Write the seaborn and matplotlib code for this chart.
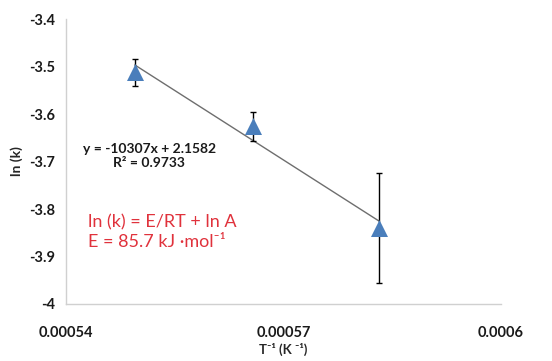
import numpy as np
import pandas as pd
import matplotlib
matplotlib.use("Agg")
import matplotlib.pyplot as plt
import seaborn as sns

# data
inv_T = [0.0005495, 0.0005658, 0.0005832]
ln_k = [-3.512, -3.626, -3.840]
err = [0.028, 0.030, 0.116]

# trendline equation as printed on the chart
slope = -10307
intercept = 2.1582
r2 = 0.9733
E_kJ = 85.7

df = pd.DataFrame({"inv_T": inv_T, "ln_k": ln_k, "err": err})

sns.set_theme(style="white")
plt.rcParams["font.family"] = ["Lato", "DejaVu Sans"]

fig = plt.figure(figsize=(5.52, 3.61), dpi=100)
ax = fig.add_axes([0.1196, 0.158, 0.788, 0.789])

# linear trendline (drawn over the data range)
sns.regplot(data=df, x="inv_T", y="ln_k", scatter=False, ci=None, truncate=True,
            color="#6e6e6e", line_kws={"lw": 1.0, "zorder": 2}, ax=ax)

ax.errorbar(df["inv_T"], df["ln_k"], yerr=df["err"], fmt="none", ecolor="black",
            elinewidth=1.0, capsize=2, capthick=1.0, zorder=3)
sns.scatterplot(data=df, x="inv_T", y="ln_k", marker="^", s=150, color="#4a7ebb",
                edgecolor="#4a7ebb", linewidth=0, zorder=4, ax=ax)

ax.set_xlim(0.00054, 0.0006)
ax.set_ylim(-4, -3.4)
ax.set_xticks([0.00054, 0.00057, 0.0006])
ax.set_xticklabels(["0.00054", "0.00057", "0.0006"])
ax.set_yticks(np.arange(-4, -3.35, 0.1))
ax.set_yticklabels(["-4", "-3.9", "-3.8", "-3.7", "-3.6", "-3.5", "-3.4"])

for s in ["top", "right"]:
    ax.spines[s].set_visible(False)
for s in ["left", "bottom"]:
    ax.spines[s].set_color("#d0d0d0")
    ax.spines[s].set_linewidth(1.0)
ax.tick_params(axis="both", direction="out", length=4, width=1, color="#d0d0d0",
               labelsize=10.5, labelcolor="#1a1a1a", pad=4)
ax.tick_params(axis="x", pad=12)
for lab in ax.get_xticklabels() + ax.get_yticklabels():
    lab.set_fontweight("bold")

ax.set_xlabel("T⁻¹ (K ⁻¹)", fontsize=9.5, fontweight="bold", labelpad=2)
ax.set_ylabel("ln (k)", fontsize=10, fontweight="bold", labelpad=4)

ax.text(0.0005515, -3.674, f"y = {slope}x + {intercept}", ha="center", va="center",
        fontsize=10, fontweight="bold", color="#1a1a1a")
ax.text(0.0005515, -3.703, f"R² = {r2}", ha="center", va="center",
        fontsize=10, fontweight="bold", color="#1a1a1a")

ax.text(0.0005431, -3.829, "ln (k) = E/RT + ln A", ha="left", va="center",
        fontsize=13, color="#e0323c")
ax.text(0.0005431, -3.870, f"E = {E_kJ} kJ ·mol⁻¹", ha="left", va="center",
        fontsize=13, color="#e0323c")

fig.savefig("out.png", dpi=100)
